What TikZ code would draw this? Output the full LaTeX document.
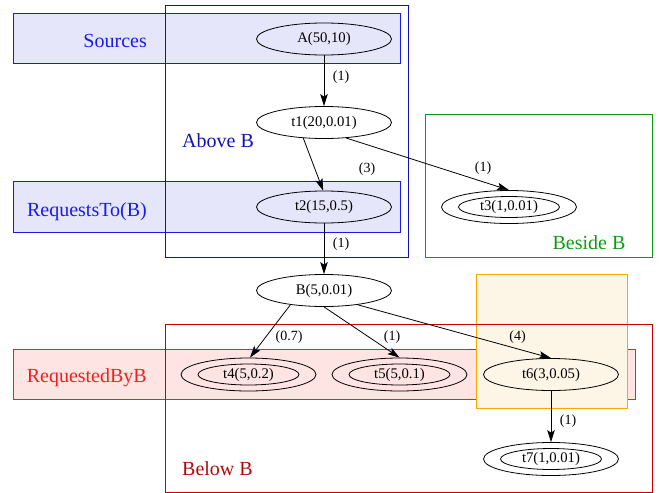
\documentclass[tikz,border=0pt]{standalone}
\usepackage{fontspec}
\setmainfont{Liberation Serif}
\usetikzlibrary{shapes.geometric,arrows.meta}

\definecolor{lavfill}{HTML}{E6E6FA}
\definecolor{srcblue}{HTML}{1A1AF0}
\definecolor{aboveblue}{HTML}{1212B4}
\definecolor{rosefill}{HTML}{FFE4E4}
\definecolor{reqred}{HTML}{F02020}
\definecolor{belowred}{HTML}{C80000}
\definecolor{belowtext}{HTML}{B00808}
\definecolor{orangeline}{HTML}{FFA500}
\definecolor{orangefill}{HTML}{FDF5E6}
\definecolor{besidegreen}{HTML}{109A10}

\begin{document}
\begin{tikzpicture}[x=1pt,y=-1pt,
  state/.style={ellipse, draw, line width=0.8pt, minimum width=135pt,
    minimum height=32pt, inner sep=0pt, font=\fontsize{14.7}{16}\selectfont},
  final/.style={state, minimum height=33pt},
  finalin/.style={ellipse, draw, line width=0.8pt, minimum width=101pt,
    minimum height=21pt, inner sep=0pt},
  edge/.style={draw, line width=0.8pt, -{Stealth[length=12pt,width=7.5pt,inset=2.5pt]}},
  elabel/.style={font=\fontsize{14}{16}\selectfont, inner sep=0pt},
  clabel/.style={font=\fontsize{20}{24}\selectfont, inner sep=0pt},
  box/.style={line width=0.9pt}]

\useasboundingbox (0,0) rectangle (662,493);

% rank bands
\draw[box, draw=srcblue, fill=lavfill] (13,13) rectangle (400,63);
\draw[box, draw=srcblue, fill=lavfill] (13,181.5) rectangle (400,232);
\draw[box, draw=reqred, fill=rosefill] (13,349) rectangle (635,399.5);
\draw[box, draw=orangeline, fill=orangefill] (476,274) rectangle (627,408);

% region frames
\draw[box, draw=aboveblue] (165,5) rectangle (408,257);
\draw[box, draw=besidegreen] (425,114) rectangle (652,257);
\draw[box, draw=belowred] (165,324) rectangle (652,492);

% band and region labels
\node[clabel, text=srcblue, anchor=base east] (lsrc) at (147,47.5) {Sources};
\node[clabel, text=srcblue, anchor=base east] (lreq) at (147,216) {RequestsTo(B)};
\node[clabel, text=reqred, anchor=base east] (lrby) at (147,382.5) {RequestedByB};
\node[clabel, text=aboveblue, anchor=base west] (labove) at (182,147.5) {Above B};
\node[clabel, text=besidegreen, anchor=base] (lbeside) at (589,249) {Beside B};
\node[clabel, text=belowtext, anchor=base west] (lbelow) at (182,475.5) {Below B};

% states
\node[state] (A)  at (324,39)    {A(50,10)};
\node[state] (t1) at (324,122.5) {t1(20,0.01)};
\node[state] (t2) at (324,207)   {t2(15,0.5)};
\node[final] (t3) at (509,207)   {t3(1,0.01)};
\node[finalin] (t3in) at (t3) {};
\node[state] (B)  at (324,290.5) {B(5,0.01)};
\node[final] (t4) at (248.5,374.5) {t4(5,0.2)};
\node[finalin] (t4in) at (t4) {};
\node[final] (t5) at (399.5,374.5) {t5(5,0.1)};
\node[finalin] (t5in) at (t5) {};
\node[state] (t6) at (551,374.5) {t6(3,0.05)};
\node[final] (t7) at (551,459)   {t7(1,0.01)};
\node[finalin] (t7in) at (t7) {};

% transitions
\draw[edge] (A) -- (t1);
\draw[edge] (t1.217) -- (t2.93);
\draw[edge] (t1.325) -- (t3.north);
\draw[edge] (t2) -- (B);
\draw[edge] (B.203) -- (t4.85);
\draw[edge] (B.south) -- (t5.north);
\draw[edge] (B.337) -- (t6.north);
\draw[edge] (t6) -- (t7);

% transition weights
\node[elabel] (w1) at (341,77)    {(1)};
\node[elabel] (w2) at (367,169)   {(3)};
\node[elabel] (w3) at (483,168)   {(1)};
\node[elabel] (w4) at (341,244.5) {(1)};
\node[elabel] (w5) at (289,337)   {(0.7)};
\node[elabel] (w6) at (392,337)   {(1)};
\node[elabel] (w7) at (517.5,337) {(4)};
\node[elabel] (w8) at (568,421)   {(1)};

\end{tikzpicture}
\end{document}
